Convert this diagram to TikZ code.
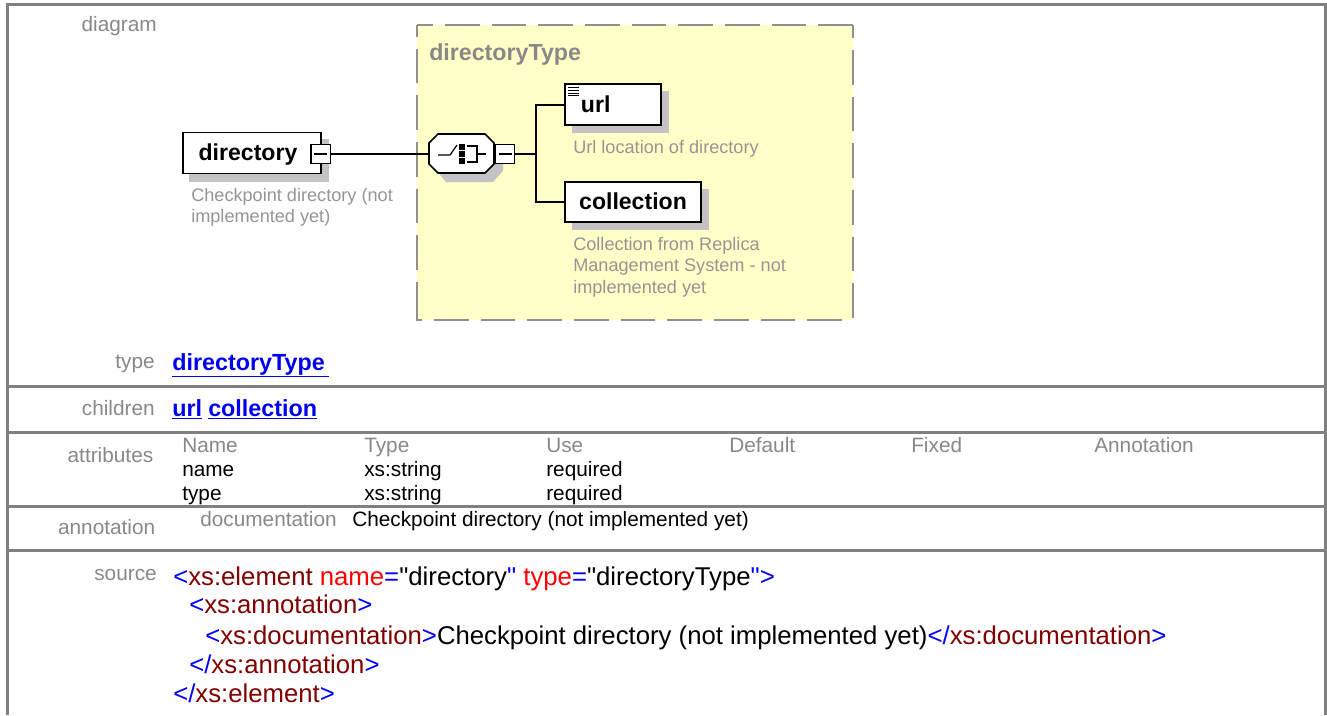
\documentclass[tikz,border=0pt]{standalone}
\usepackage{fontspec}
\setmainfont{Liberation Sans}
\newfontfamily\srcfont{Liberation Sans}
\usepackage{xcolor}
\usetikzlibrary{calc}
\definecolor{rulegray}{HTML}{808080}
\definecolor{capgray}{HTML}{888888}
\definecolor{notegray}{HTML}{959595}
\definecolor{dashgray}{HTML}{909090}
\definecolor{shadegray}{HTML}{C4C2C4}
\definecolor{typeyellow}{HTML}{FFFFC8}
\definecolor{linkblue}{HTML}{0000F0}
\definecolor{tagred}{HTML}{800000}
\tikzset{
  rowline/.style={rulegray,line width=2.25pt},
  typeline/.style={dashgray,line width=1.4pt,dash pattern=on 26pt off 9pt,dash phase=#1},
  elem/.style={draw=black,line width=1.2pt,fill=white,inner sep=0pt,text height=15pt,text depth=3.5pt,font=\fontsize{17.3}{20}\selectfont\bfseries},
  note/.style={anchor=north west,inner sep=0pt,align=left,text=notegray,font=\fontsize{13.6}{16}\selectfont},
  caption/.style={anchor=base east,inner sep=0pt,text=capgray,font=\fontsize{15.6}{18}\selectfont},
  link/.style={anchor=base west,inner sep=0pt,text=linkblue,font=\fontsize{17.5}{20}\selectfont\bfseries},
  cell/.style={anchor=base west,inner sep=0pt,font=\fontsize{15.6}{18}\selectfont},
  src/.style={anchor=base west,inner sep=0pt,font=\srcfont\fontsize{19.3}{22}\selectfont},
  wire/.style={black,line width=1.2pt},
  box/.style={draw=black,line width=1pt,fill=white,minimum size=14.5pt,inner sep=0pt}
}
\newcommand{\minusbox}[2]{%
  \node[box] (#1) at (#2) {};
  \draw[black,line width=.8pt] ($(#1)+(-6.5,0)$) -- ($(#1)+(6.5,0)$);}
\begin{document}
\begin{tikzpicture}[x=0.75pt,y=-0.75pt]
    \useasboundingbox (0,0) rectangle (1327,715);
    % frame
    \draw[rowline] (1325.4,715) -- (1325.4,4.5) -- (7.3,4.5) -- (7.3,715);
    \draw[rowline] (7.3,386.5) -- (1325.4,386.5);
    \draw[rowline] (7.3,432.5) -- (1325.4,432.5);
    \draw[rowline] (7.3,506.3) -- (1325.4,506.3);
    \draw[rowline] (7.3,550.5) -- (1325.4,550.5);
    % type box
    \fill[typeyellow] (417,25) rectangle (853,320);
    \draw[typeline=14pt] (417,25) -- (853,25);
    \draw[typeline=16.25pt] (853,25) -- (853,320);
    \draw[typeline=17.25pt] (417,25) -- (417,320);
    \draw[typeline=19.25pt] (417,316) -- (417,320) -- (853,320);
    \node[anchor=base west,inner sep=0pt,text=capgray,font=\fontsize{17.4}{20}\selectfont\bfseries] (typename) at (429,60) {directoryType};
    % shadows
    \fill[shadegray] (189,139) rectangle (329,182);
    \fill[shadegray] (572,91) rectangle (669,133);
    \fill[shadegray] (572,189) rectangle (709,230);
    \fill[shadegray] (446,142) -- (493,142) -- (503,152) -- (503,171) -- (493,182) -- (446,182) -- (437,171) -- (437,152) -- cycle;
    % elements
    \node[elem,minimum width=103.5pt,minimum height=31pt] (directory) at (252,153) {\hspace{-6pt}directory};
    \minusbox{dirminus}{320.5,154}
    \coordinate (forkup) at (536,105);
    \coordinate (forkdown) at (536,202);
    \coordinate (forkmid) at (536,154);
    \node[elem,minimum width=72pt,minimum height=30.5pt] (url) at (613,104.5) {\hspace{-26pt}url};
    \node[elem,minimum width=102pt,minimum height=30pt] (collection) at (633,202) {collection};
    \foreach \y in {87,90,93,95}
      \draw[black,line width=.6pt] (568,\y) -- (579,\y);
    % compositor
    \draw[wire,fill=white] (438,134) -- (485,134) -- (494,143) -- (494,164) -- (485,173) -- (438,173) -- (429,164) -- (429,143) -- cycle;
    \coordinate (compin) at (429,154);
    \minusbox{compminus}{505,154}
    % switch symbol
    \draw[black,line width=.9pt] (438,155) -- (450,155) -- (457,145);
    \fill[black] (459,144) rectangle (465,150);
    \fill[black] (459,151) rectangle (465,157);
    \fill[black] (459,158) rectangle (465,164);
    \draw[black,line width=.9pt] (467,146) -- (477,146) -- (477,162) -- (467,162);
    \draw[black,line width=.9pt] (477,154) -- (486,154);
    % connectors
    \draw[wire] (dirminus.east) -- (compin);
    \draw[wire] (compminus.east) -- (forkmid);
    \draw[wire] (url.west |- forkup) -- (forkup) -- (forkdown) -- (collection.west);
    % notes
    \node[note] (dirnote) at (191,188) {Checkpoint directory (not\\implemented yet)};
    \node[note] (urlnote) at (573,140) {Url location of directory};
    \node[note] (collnote) at (573,237) {Collection from Replica\\Management System - not\\implemented yet};
    % captions
    \node[caption] (capdiagram) at (157,31) {diagram};
    \node[caption] (captype) at (155,368) {type};
    \node[caption] (capchildren) at (155,415) {children};
    \node[caption] (capattr) at (153.5,462) {attributes};
    \node[caption] (capannot) at (155.5,534) {annotation};
    \node[caption] (capsource) at (157,580) {source};
    % links
    \node[link] (linktype) at (172,370) {\underline{directoryType\,}};
    \node[link] (linkurl) at (172,416) {\underline{url}};
    \node[link] (linkcoll) at (208,416) {\underline{collection}};
    % attributes
    \foreach \x/\a/\b/\c [count=\i] in {182/Name/name/type,364/Type/xs:string/xs:string,546/Use/required/required}{
      \node[cell,text=capgray] (head\i) at (\x,452.5) {\a};
      \node[cell] (first\i) at (\x,476.5) {\b};
      \node[cell] (second\i) at (\x,500) {\c};
    }
    \node[cell,text=capgray] (head4) at (729,452.5) {Default};
    \node[cell,text=capgray] (head5) at (911,452.5) {Fixed};
    \node[cell,text=capgray] (head6) at (1094,452.5) {Annotation};
    \node[cell,text=capgray] (capdoc) at (200,526.5) {documentation};
    \node[cell] (doctext) at (352,526.5) {Checkpoint directory (not implemented yet)};
    % source
    \node[src] (line1) at (173,585) {\textcolor{blue}{<}\textcolor{tagred}{xs:element} \textcolor{red}{name}\textcolor{blue}{=}"directory\textcolor{blue}{"} \textcolor{red}{type}\textcolor{blue}{=}"directoryType\textcolor{blue}{">}};
    \node[src] (line2) at (189,613) {\textcolor{blue}{<}\textcolor{tagred}{xs:annotation}\textcolor{blue}{>}};
    \node[src] (line3) at (205,644) {\textcolor{blue}{<}\textcolor{tagred}{xs:documentation}\textcolor{blue}{>}Checkpoint directory (not implemented yet)\textcolor{blue}{</}\textcolor{tagred}{xs:documentation}\textcolor{blue}{>}};
    \node[src] (line4) at (189,673) {\textcolor{blue}{</}\textcolor{tagred}{xs:annotation}\textcolor{blue}{>}};
    \node[src] (line5) at (173,702) {\textcolor{blue}{</}\textcolor{tagred}{xs:element}\textcolor{blue}{>}};
\end{tikzpicture}
\end{document}
